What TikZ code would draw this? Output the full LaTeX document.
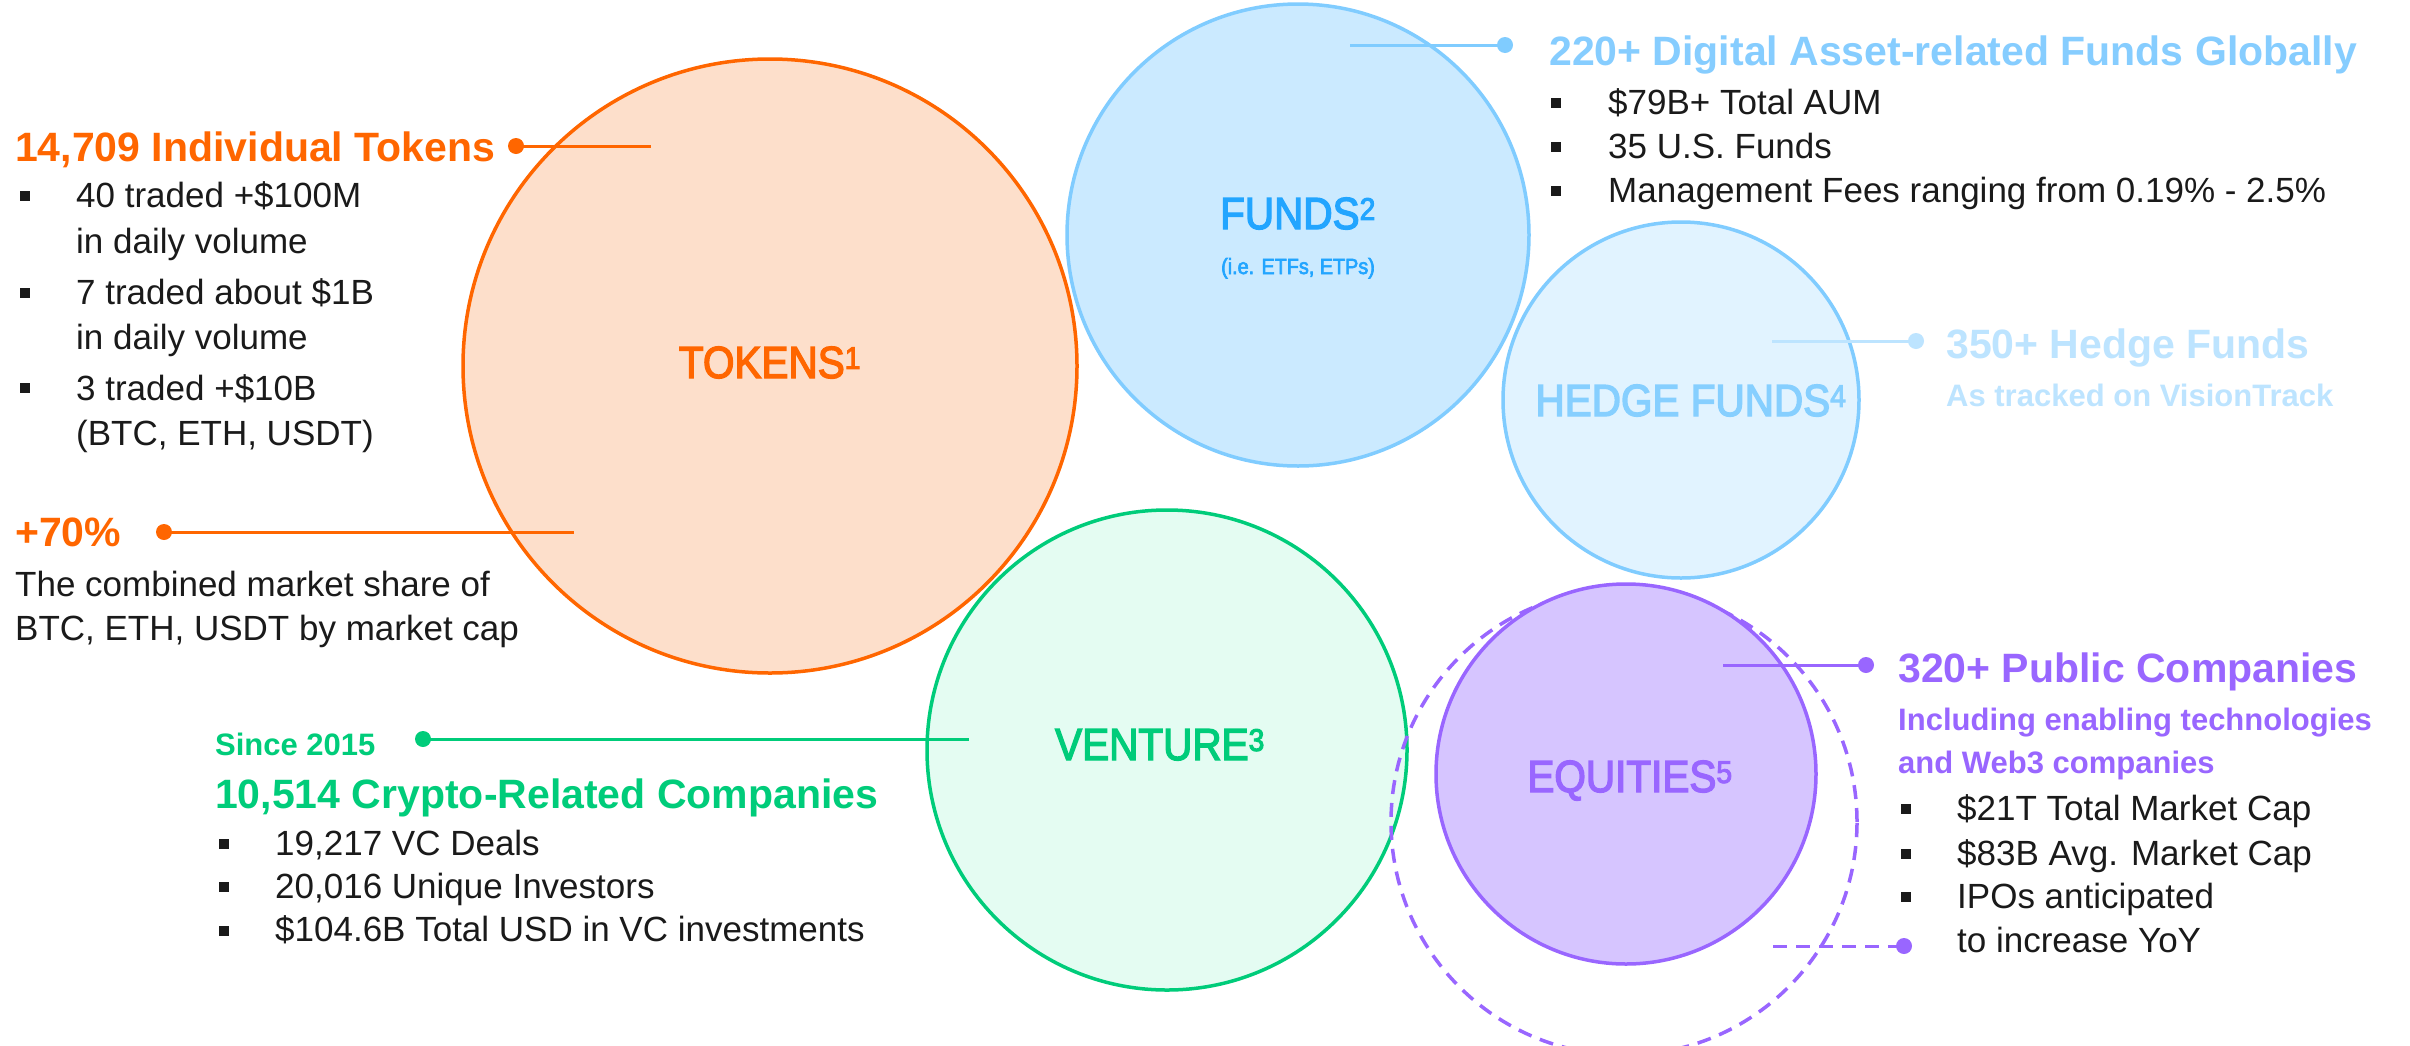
\documentclass[tikz,border=0pt]{standalone}
\usepackage{fontspec}
\setmainfont{Liberation Sans}
\newfontfamily\labelfont[FakeStretch=0.9, FakeBold=3]{Liberation Sans}
\definecolor{ink}{HTML}{1A1A1A}
\definecolor{tokline}{HTML}{FF6600}
\definecolor{tokfill}{HTML}{FDDFCB}
\definecolor{fundline}{HTML}{80CCFF}
\definecolor{fundfill}{HTML}{CBEAFF}
\definecolor{fundlbl}{HTML}{22A5FF}
\definecolor{fundttl}{HTML}{86CDFF}
\definecolor{hedgefill}{HTML}{E1F3FF}
\definecolor{hedgelbl}{HTML}{86CFFF}
\definecolor{hedgettl}{HTML}{BDE4FF}
\definecolor{venline}{HTML}{00CC7A}
\definecolor{venfill}{HTML}{E4FCF2}
\definecolor{eqline}{HTML}{9966FF}
\definecolor{eqfill}{HTML}{D6C5FF}
\tikzset{
  bubble/.style={circle, inner sep=0pt, line width=3.5pt},
  lbl/.style={font=\labelfont\fontsize{45}{50}\selectfont, inner sep=0pt, anchor=base},
  ttl/.style={font=\bfseries\fontsize{41}{48}\selectfont, inner sep=0pt, anchor=base west},
  sub/.style={font=\bfseries\fontsize{31}{38}\selectfont, inner sep=0pt, anchor=base west},
  body/.style={font=\fontsize{35}{42}\selectfont, text=ink, inner sep=0pt, anchor=base west},
  bul/.style={rectangle, fill=ink, minimum size=10pt, inner sep=0pt},
  conn/.style={line width=3pt},
  pin/.style={circle, inner sep=0pt, minimum size=16pt},
}
\begin{document}
\begin{tikzpicture}[x=1pt,y=-1pt]
\useasboundingbox (0,0) rectangle (2410,1045);
\fill[white] (0,0) rectangle (2410,1045);

% ---- circles ----
\node[bubble, draw=tokline, fill=tokfill, minimum size=614pt] (tok) at (770,366) {};
\node[bubble, draw=fundline, fill=fundfill, minimum size=462pt] (fund) at (1298,235) {};
\node[bubble, draw=fundline, fill=hedgefill, minimum size=356pt] (hedge) at (1681,400) {};
\node[bubble, draw=venline, fill=venfill, minimum size=480pt] (ven) at (1167,750) {};
\node[bubble, draw=eqline, dash pattern=on 14pt off 9pt, minimum size=466pt] (eqdash) at (1624,822) {};
\node[bubble, draw=eqline, fill=eqfill, minimum size=380pt] (eq) at (1626,774) {};

% ---- circle labels ----
\node[lbl, text=tokline] (toklbl) at (770,378) {TOKENS\textsuperscript{1}};
\node[lbl, text=fundlbl] (fundlbl) at (1298,229) {FUNDS\textsuperscript{2}};
\node[inner sep=0pt, anchor=base, text=fundlbl, font=\labelfont\fontsize{22}{26}\selectfont] (fundsub) at (1298,274) {(i.e. ETFs, ETPs)};
\node[lbl, text=hedgelbl] (hedgelbl) at (1691,416) {HEDGE FUNDS\textsuperscript{4}};
\node[lbl, text=venline] (venlbl) at (1160,760) {VENTURE\textsuperscript{3}};
\node[lbl, text=eqline] (eqlbl) at (1630,792) {EQUITIES\textsuperscript{5}};

% ---- TOKENS callouts ----
\node[pin, fill=tokline] (tpin1) at (516,146) {};
\coordinate (tend1) at (651,146);
\draw[conn, tokline] (tpin1.center) -- (tend1);
\node[ttl, text=tokline] (tttl) at (15,161) {14,709 Individual Tokens};
\node[bul] (tb1) at (25,196) {};
\node[body] (tl1) at (76,207) {40 traded +\$100M};
\node[body] (tl2) at (76,253) {in daily volume};
\node[bul] (tb2) at (25,293) {};
\node[body] (tl3) at (76,304) {7 traded about \$1B};
\node[body] (tl4) at (76,349) {in daily volume};
\node[bul] (tb3) at (25,388) {};
\node[body] (tl5) at (76,400) {3 traded +\$10B};
\node[body] (tl6) at (76,445) {(BTC, ETH, USDT)};

\node[pin, fill=tokline] (tpin2) at (164,532) {};
\coordinate (tend2) at (574,532);
\draw[conn, tokline] (tpin2.center) -- (tend2);
\node[ttl, text=tokline] (pct) at (15,546) {+70\%};
\node[body] (tl7) at (15,596) {The combined market share of};
\node[body] (tl8) at (15,640) {BTC, ETH, USDT by market cap};

% ---- FUNDS callout ----
\node[pin, fill=fundline] (fpin) at (1505,45) {};
\coordinate (fend) at (1350,45);
\draw[conn, fundline] (fend) -- (fpin.center);
\node[ttl, text=fundttl] (fttl) at (1549,65) {220+ Digital Asset-related Funds Globally};
\node[bul] (fb1) at (1556,103) {};
\node[body] (fl1) at (1608,114) {\$79B+ Total AUM};
\node[bul] (fb2) at (1556,147) {};
\node[body] (fl2) at (1608,158) {35 U.S. Funds};
\node[bul] (fb3) at (1556,191) {};
\node[body] (fl3) at (1608,202) {Management Fees ranging from 0.19\% - 2.5\%};

% ---- HEDGE callout ----
\node[pin, fill=hedgettl] (hpin) at (1916,341) {};
\coordinate (hend) at (1772,341);
\draw[conn, hedgettl] (hend) -- (hpin.center);
\node[ttl, text=hedgettl] (httl) at (1946,358) {350+ Hedge Funds};
\node[sub, text=hedgettl] (hsub) at (1946,406) {As tracked on VisionTrack};

% ---- VENTURE callout ----
\node[pin, fill=venline] (vpin) at (423,739) {};
\coordinate (vend) at (969,739);
\draw[conn, venline] (vpin.center) -- (vend);
\node[sub, text=venline] (vsince) at (215,755) {Since 2015};
\node[ttl, text=venline] (vttl) at (215,808) {10,514 Crypto-Related Companies};
\node[bul] (vb1) at (224,844) {};
\node[body] (vl1) at (275,855) {19,217 VC Deals};
\node[bul] (vb2) at (224,887) {};
\node[body] (vl2) at (275,898) {20,016 Unique Investors};
\node[bul] (vb3) at (224,931) {};
\node[body] (vl3) at (275,941) {\$104.6B Total USD in VC investments};

% ---- EQUITIES callout ----
\node[pin, fill=eqline] (epin) at (1866,665) {};
\coordinate (eend) at (1723,665);
\draw[conn, eqline] (eend) -- (epin.center);
\node[ttl, text=eqline] (ettl) at (1898,682) {320+ Public Companies};
\node[sub, text=eqline] (esub1) at (1898,730) {Including enabling technologies};
\node[sub, text=eqline] (esub2) at (1898,773) {and Web3 companies};
\node[bul] (eb1) at (1906,809) {};
\node[body] (el1) at (1957,820) {\$21T Total Market Cap};
\node[bul] (eb2) at (1906,854) {};
\node[body] (el2) at (1957,865) {\$83B Avg. Market Cap};
\node[bul] (eb3) at (1906,897) {};
\node[body] (el3) at (1957,908) {IPOs anticipated};
\node[body] (el4) at (1957,952) {to increase YoY};
\node[pin, fill=eqline] (epin2) at (1904,946) {};
\coordinate (eend2) at (1773,946);
\draw[conn, eqline, dash pattern=on 14pt off 9pt] (eend2) -- (epin2.center);
\end{tikzpicture}
\end{document}
